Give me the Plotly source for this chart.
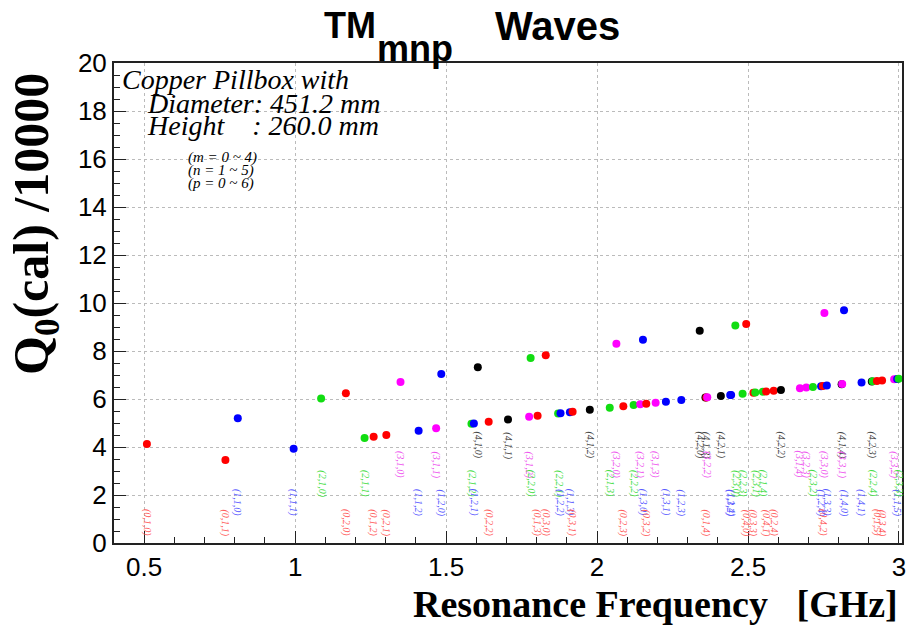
import plotly.graph_objects as go

# ---------------- data (frequency in GHz, Q0/10000) ----------------
freq_m0 = [0.509, 0.769, 1.260, 1.803, 2.362, 2.927, 1.168, 1.302, 1.641, 2.087, 2.585,
           1.830, 1.919, 2.163, 2.518, 2.944, 2.494, 2.560, 2.748]
q_m0 = [4.12, 3.46, 4.43, 5.30, 6.06, 6.75, 6.24, 4.50, 5.05, 5.70, 6.34,
        7.82, 5.47, 5.80, 6.26, 6.77, 9.12, 6.31, 6.54]
lab_m0 = ["(0,1,0)", "(0,1,1)", "(0,1,2)", "(0,1,3)", "(0,1,4)", "(0,1,5)", "(0,2,0)", "(0,2,1)",
          "(0,2,2)", "(0,2,3)", "(0,2,4)", "(0,3,0)", "(0,3,1)", "(0,3,2)", "(0,3,3)", "(0,3,4)",
          "(0,4,0)", "(0,4,1)", "(0,4,2)"]

freq_m1 = [0.810, 0.995, 1.409, 1.910, 2.444, 2.994, 1.484, 1.592, 1.879, 2.279, 2.742,
           2.152, 2.228, 2.441, 2.761, 2.818, 2.876]
q_m1 = [5.20, 3.93, 4.68, 5.45, 6.17, 6.83, 7.04, 4.98, 5.41, 5.96, 6.53,
        8.47, 5.89, 6.17, 6.56, 9.70, 6.69]
lab_m1 = ["(1,1,0)", "(1,1,1)", "(1,1,2)", "(1,1,3)", "(1,1,4)", "(1,1,5)", "(1,2,0)", "(1,2,1)",
          "(1,2,2)", "(1,2,3)", "(1,2,4)", "(1,3,0)", "(1,3,1)", "(1,3,2)", "(1,3,3)", "(1,4,0)",
          "(1,4,1)"]

freq_m2 = [1.086, 1.230, 1.584, 2.042, 2.549, 1.780, 1.871, 2.121, 2.482, 2.913,
           2.458, 2.524, 2.715, 2.999]
q_m2 = [6.02, 4.38, 4.97, 5.64, 6.30, 7.71, 5.40, 5.75, 6.22, 6.74,
        9.06, 6.27, 6.50, 6.84]
lab_m2 = ["(2,1,0)", "(2,1,1)", "(2,1,2)", "(2,1,3)", "(2,1,4)", "(2,2,0)", "(2,2,1)", "(2,2,2)",
          "(2,2,3)", "(2,2,4)", "(2,3,0)", "(2,3,1)", "(2,3,2)", "(2,3,3)"]

freq_m3 = [1.349, 1.467, 1.775, 2.194, 2.672, 2.064, 2.143, 2.365, 2.693, 2.753, 2.812, 2.984]
q_m3 = [6.71, 4.78, 5.26, 5.84, 6.45, 8.30, 5.78, 6.07, 6.48, 9.58, 6.62, 6.82]
lab_m3 = ["(3,1,0)", "(3,1,1)", "(3,1,2)", "(3,1,3)", "(3,1,4)", "(3,2,0)", "(3,2,1)", "(3,2,2)",
          "(3,2,3)", "(3,3,0)", "(3,3,1)", "(3,3,2)"]

freq_m4 = [1.605, 1.705, 1.976, 2.359, 2.810, 2.340, 2.410, 2.609, 2.910]
q_m4 = [7.32, 5.15, 5.55, 6.06, 6.61, 8.84, 6.13, 6.37, 6.73]
lab_m4 = ["(4,1,0)", "(4,1,1)", "(4,1,2)", "(4,1,3)", "(4,1,4)", "(4,2,0)", "(4,2,1)", "(4,2,2)",
          "(4,2,3)"]

x_ticks = [0.5, 1.0, 1.5, 2.0, 2.5, 3.0]
x_ticktext = ["0.5", "1", "1.5", "2", "2.5", "3"]
y_ticks = [0, 2, 4, 6, 8, 10, 12, 14, 16, 18, 20]

# ---------------- styling ----------------
dot_colors = ["#ff0000", "#0000ff", "#11dd11", "#ff00ff", "#000000"]
label_colors = ["#ff5a5a", "#5a5aff", "#44dd44", "#ee55ee", "#444444"]
label_y = [0.84, 1.68, 2.48, 3.27, 4.07]

groups = [
    (freq_m0, q_m0, lab_m0),
    (freq_m1, q_m1, lab_m1),
    (freq_m2, q_m2, lab_m2),
    (freq_m3, q_m3, lab_m3),
    (freq_m4, q_m4, lab_m4),
]

# combine and sort by frequency so that drawing order follows frequency
pts = []
for m, (fs, qs, ls) in enumerate(groups):
    for f, q, l in zip(fs, qs, ls):
        pts.append((f, q, l, m))
pts.sort(key=lambda t: t[0])

fig = go.Figure()
fig.add_trace(go.Scatter(
    x=[p[0] for p in pts], y=[p[1] for p in pts], mode="markers",
    marker=dict(size=8, color=[dot_colors[p[3]] for p in pts], line=dict(width=0)),
    text=[p[2] for p in pts], hoverinfo="x+y+text", showlegend=False, cliponaxis=False,
))

annotations = []
for f, q, l, m in pts:
    annotations.append(dict(
        x=f, y=label_y[m], xref="x", yref="y", text=l, showarrow=False, textangle=90,
        font=dict(family="Liberation Serif", size=10, color=label_colors[m], style="italic"),
        xanchor="center", yanchor="middle",
    ))

L, R, T, B = 114, 22, 63, 87
W, H = 924, 630
pw, ph = W - L - R, H - T - B


def px(x):
    return (x - L) / pw


def py(y):
    return (H - B - y) / ph


serif_it = dict(family="Liberation Serif", color="black", style="italic")

annotations += [
    dict(x=px(120), y=py(79), text="Copper Pillbox with", xanchor="left", yanchor="middle",
         font=dict(size=28, **serif_it)),
    dict(x=px(145), y=py(103), text="Diameter: 451.2 mm", xanchor="left", yanchor="middle",
         font=dict(size=28, **serif_it)),
    dict(x=px(145), y=py(126), text="Height\u00a0\u00a0\u00a0\u00a0: 260.0 mm", xanchor="left",
         yanchor="middle", font=dict(size=28, **serif_it)),
    dict(x=px(186), y=py(157), text="(m = 0 ~ 4)", xanchor="left", yanchor="middle",
         font=dict(size=15, **serif_it)),
    dict(x=px(186), y=py(170), text="(n = 1 ~ 5)", xanchor="left", yanchor="middle",
         font=dict(size=15, **serif_it)),
    dict(x=px(186), y=py(183), text="(p = 0 ~ 6)", xanchor="left", yanchor="middle",
         font=dict(size=15, **serif_it)),
    # title
    dict(x=px(350), y=py(3), text="TM", xanchor="center", yanchor="top",
         font=dict(family="Liberation Sans", size=36, color="black", weight="bold")),
    dict(x=px(415), y=py(48), text="mnp", xanchor="center", yanchor="middle",
         font=dict(family="Liberation Sans", size=36, color="black", weight="bold")),
    dict(x=px(557), y=py(2), text="Waves", xanchor="center", yanchor="top",
         font=dict(family="Liberation Sans", size=40, color="black", weight="bold")),
    # axis titles
    dict(x=px(900), y=py(604), text="Resonance Frequency\u00a0\u00a0\u00a0[GHz]", xanchor="right",
         yanchor="middle",
         font=dict(family="Liberation Serif", size=38, color="black", weight="bold")),
    dict(x=px(35), y=py(224), text="Q<sub>0</sub>(cal) /10000", textangle=-90,
         xanchor="center", yanchor="middle",
         font=dict(family="Liberation Serif", size=50, color="black", weight="bold")),
]
for a in annotations[-11:]:
    a.update(xref="paper", yref="paper", showarrow=False)

axis_common = dict(
    showline=True, linewidth=2, linecolor="#222222", mirror=True,
    ticks="inside", ticklen=12, tickwidth=1, tickcolor="#222222",
    showgrid=True, gridcolor="#bbbbbb", gridwidth=1, griddash="dot",
    zeroline=False,
    tickfont=dict(family="Liberation Sans", size=26, color="black"),
)

fig.update_xaxes(range=[0.4, 3.01], tickvals=x_ticks, ticktext=x_ticktext,
                 minor=dict(dtick=0.1, tick0=0.4, ticks="inside", ticklen=6, tickcolor="#222222",
                            showgrid=False),
                 **axis_common)
fig.update_yaxes(range=[0, 20], tickvals=y_ticks,
                 minor=dict(dtick=0.5, tick0=0, ticks="inside", ticklen=6, tickcolor="#222222",
                            showgrid=False),
                 **axis_common)

fig.update_layout(
    width=W, height=H, margin=dict(l=L, r=R, t=T, b=B),
    paper_bgcolor="white", plot_bgcolor="white",
    annotations=annotations, showlegend=False,
)

fig.write_html("out.html", config={"displayModeBar": False},
               post_script="document.body.style.margin='0px';")
